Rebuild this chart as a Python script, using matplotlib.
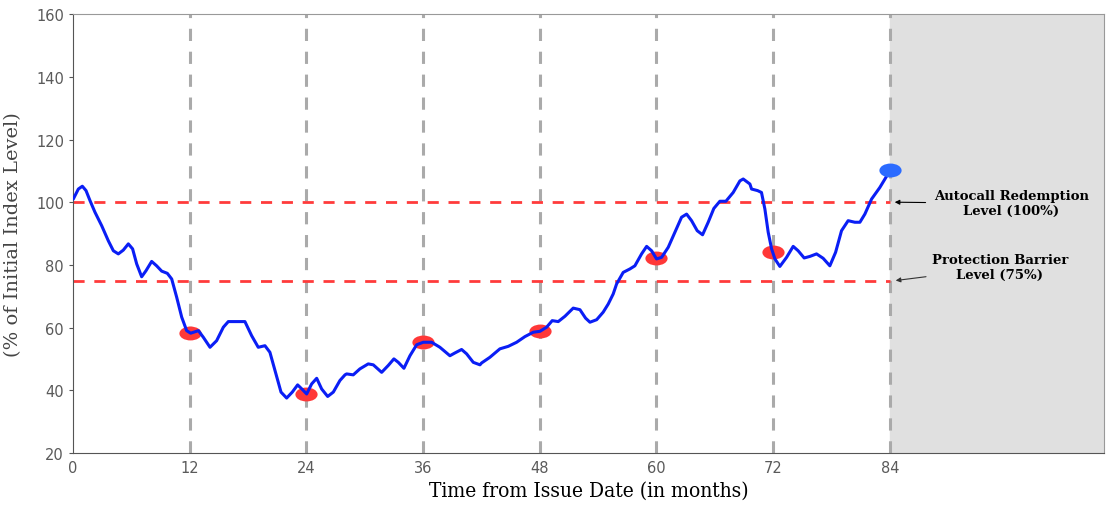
import matplotlib.pyplot as plt
from matplotlib.markers import MarkerStyle
from matplotlib.transforms import Affine2D

# index path (month, % of initial level)
months = [0.03, 0.55, 0.96, 1.34, 1.75, 2.26, 2.95, 3.63, 4.15, 4.66, 5.17, 5.69, 6.13,
          6.55, 7.06, 7.5, 8.09, 8.6, 9.12, 9.7, 10.15, 10.66, 11.18, 11.69, 12.1,
          12.9, 13.4,
          14.09, 14.77, 15.46, 15.97, 17.0, 17.68, 18.37, 19.05, 19.74, 20.25, 20.77,
          21.39, 21.97, 22.55, 23.1, 23.6, 24.03, 24.54, 25.06, 25.57, 26.19, 26.77,
          27.45, 27.97,
          28.14, 28.82, 29.5, 30.36, 30.88, 31.74, 32.42, 33.0, 33.45, 34.03, 34.65,
          35.34, 36.02, 36.88, 37.73, 38.76, 39.28, 39.96, 40.48, 41.16, 41.85,
          42.02, 42.87, 43.9, 44.76, 45.62, 46.47, 47.33, 48.02, 48.7, 49.28, 49.9,
          50.59, 51.44, 52.13, 52.71, 53.16, 53.85, 54.52, 55.04, 55.55,
          55.9, 56.58, 57.27, 57.78, 58.47, 58.99, 59.5, 60.01, 60.53, 61.21, 61.9,
          62.58, 63.1, 63.61, 64.19, 64.74, 65.32, 65.9, 66.52, 67.14, 67.89, 68.58,
          68.92, 69.61,
          69.78, 70.4, 70.8, 71.15, 71.49, 71.84, 72.18, 72.69, 73.38, 74.06, 74.57,
          75.19, 75.78, 76.46, 77.14, 77.83, 78.42, 79.03, 79.71, 80.4, 80.92, 81.43,
          82.12, 82.97, 84.0]
level = [101, 104.2, 105.1, 103.7, 100.5, 96.8, 92.5, 87.7, 84.5, 83.5, 84.7, 86.7, 85.1,
         80.3, 76.2, 78.1, 81.1, 79.7, 78, 77.3, 75.5, 69.7, 63.3, 59, 58.2,
         59, 56.9,
         53.7, 55.8, 60.1, 61.9, 61.9, 61.9, 57.4, 53.7, 54.2, 52.1, 46.3,
         39.4, 37.5, 39.4, 41.7, 40.2, 38.8, 42, 43.8, 40.4, 38, 39.4,
         43.1, 44.9,
         45.2, 44.9, 46.8, 48.4, 48.1, 45.7, 47.9, 50, 48.9, 47, 51,
         54.5, 55.3, 55.3, 53.7, 51, 51.9, 53, 51.6, 48.9, 48.1,
         48.7, 50.5, 53.2, 54, 55.3, 57.1, 58.5, 58.8, 60.1, 62.2, 61.9,
         63.6, 66.2, 65.7, 63, 61.7, 62.5, 64.9, 67.5, 70.7,
         73.9, 77.6, 78.7, 79.7, 83.5, 85.9, 84.5, 81.9, 82.4, 85.6, 90.4,
         95.2, 96.2, 94.1, 90.9, 89.6, 93.6, 98, 100.3, 100.3, 103.1, 106.8,
         107.4, 105.8,
         104.2, 103.7, 103.1, 97.8, 90.4, 85.1, 81.9, 79.5, 82.4, 85.9, 84.5,
         82.2, 82.7, 83.5, 82.1, 79.7, 84, 90.9, 94.1, 93.6, 93.6, 96.2,
         101, 104.7, 110]

obs_months = [12, 24, 36, 48, 60, 72]
obs_levels = [58.2, 38.8, 55.3, 59, 82.1, 84.2]
final_month = 84
final_level = 110.3

autocall_level = 100
barrier_level = 75

fig = plt.figure(figsize=(11.06, 5.06), dpi=100)
ax = fig.add_axes([0.066, 0.103, 0.932, 0.867])

ax.axvspan(final_month, 106, color='#e0e0e0', zorder=0)
for m in obs_months + [final_month]:
    ax.axvline(m, color='#aaaaaa', lw=2.2, ls=(0, (4, 3.5)), zorder=1)
for lvl in [autocall_level, barrier_level]:
    ax.plot([0, final_month], [lvl, lvl], color='#ff3b3b', lw=2, ls=(0, (4, 3.5)), zorder=2)

ell = MarkerStyle('o', transform=Affine2D().scale(1.6, 1.0))
ax.plot(obs_months, obs_levels, ls='none', marker=ell, ms=10, color='#ff3838',
        mec='none', zorder=3)
ax.plot(months, level, color='#0a1ef5', lw=2.2, solid_joinstyle='round',
        solid_capstyle='round', zorder=4)
ax.plot([final_month], [final_level], ls='none', marker=ell, ms=10, color='#2b6bff',
        mec='none', zorder=5)

ax.annotate('Autocall Redemption\nLevel (100%)', xy=(84.5, autocall_level),
            xytext=(96.5, 99.6), ha='center', va='center',
            fontsize=9.5, fontweight='bold', family='DejaVu Serif',
            arrowprops=dict(arrowstyle='-|>', color='black', lw=0.8, shrinkA=4,
                            shrinkB=0, mutation_scale=7),
            annotation_clip=False)
ax.annotate('Protection Barrier\nLevel (75%)', xy=(84.6, barrier_level),
            xytext=(95.3, 79.2), ha='center', va='center',
            fontsize=9.5, fontweight='bold', family='DejaVu Serif',
            arrowprops=dict(arrowstyle='-|>', color='#333333', lw=0.8, shrinkA=2,
                            shrinkB=0, mutation_scale=7),
            annotation_clip=False)

ax.set_xlim(0, 106)
ax.set_ylim(20, 160)
ax.set_xticks([0, 12, 24, 36, 48, 60, 72, 84])
ax.set_yticks(range(20, 161, 20))
ax.tick_params(axis='both', labelsize=10.5, labelcolor='#5a5a5a', color='#555555',
               length=3)
ax.tick_params(axis='x', length=0, pad=5)

for side in ['top', 'right']:
    ax.spines[side].set_color('#999999')
for side in ['left', 'bottom']:
    ax.spines[side].set_color('#555555')

ax.set_xlabel('Time from Issue Date (in months)', family='DejaVu Serif',
              fontstretch='condensed', fontsize=15, labelpad=4)
ax.set_ylabel('(% of Initial Index Level)', family='DejaVu Serif', fontsize=14,
              color='#444444', labelpad=10)

fig.savefig('out.png', dpi=100)
